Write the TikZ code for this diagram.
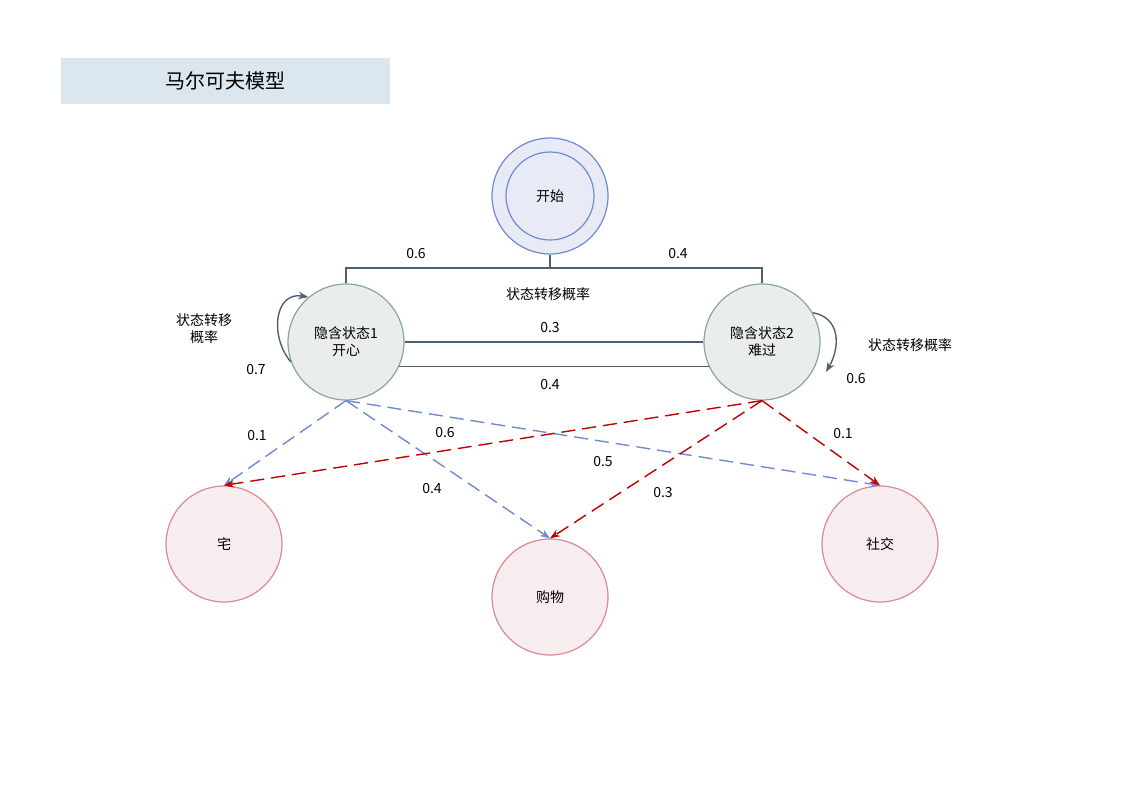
\documentclass[tikz,border=0pt]{standalone}
\usepackage{fontspec}
\setmainfont{Noto Sans CJK SC}
\usetikzlibrary{arrows.meta}
\definecolor{titlebg}{HTML}{DCE6EF}
\definecolor{startfill}{HTML}{E8EBF5}
\definecolor{startline}{HTML}{6F8BD0}
\definecolor{hidfill}{HTML}{EAEEEA}
\definecolor{hidline}{HTML}{86A898}
\definecolor{obsfill}{HTML}{F7ECEE}
\definecolor{obsline}{HTML}{D88A98}
\definecolor{barline}{HTML}{4F6170}
\definecolor{redarrow}{HTML}{C00000}
\begin{document}
\begin{tikzpicture}[x=0.5pt, y=-0.5pt,
    every node/.style={font=\fontsize{7}{8.5}\selectfont},
    hidden/.style={circle, draw=hidline, fill=hidfill, line width=0.6pt, minimum size=58pt, inner sep=0pt, align=center},
    observed/.style={circle, draw=obsline, fill=obsfill, line width=0.6pt, minimum size=58pt, inner sep=0pt},
    trans/.style={draw=barline, line width=0.7pt},
    bluelink/.style={draw=startline, line width=0.7pt, dash pattern=on 7pt off 3.5pt, -{Stealth[length=5pt]}},
    redlink/.style={draw=redarrow, line width=0.7pt, dash pattern=on 7pt off 3.5pt, -{Stealth[length=5pt]}}]
    \useasboundingbox (0,0) rectangle (1123,794);
    % title
    \node[fill=titlebg, minimum width=164.5pt, minimum height=23pt, font=\fontsize{10}{12}\selectfont] (title) at (225.5,81) {马尔可夫模型};

    % start state
    \node[circle, draw=startline, fill=startfill, line width=0.6pt, minimum size=58pt] (start) at (550,196) {};
    \node[circle, draw=startline, fill=startfill, line width=0.6pt, minimum size=44pt] (startin) at (550,196) {开始};

    % hidden states
    \node[hidden] (h1) at (346,342) {隐含状态1\\开心};
    \node[hidden] (h2) at (762,342) {隐含状态2\\难过};

    % observations
    \node[observed] (zhai) at (224,544) {宅};
    \node[observed] (gouwu) at (550,597) {购物};
    \node[observed] (shejiao) at (880,544) {社交};

    % start transitions
    \coordinate (bar) at (550,268);
    \draw[trans] (h1.north) |- (bar) -| (h2.north);
    \draw[trans] (start.south) -- (bar);
    \node (p1) at (416,253) {0.6};
    \node (p2) at (678,253) {0.4};
    \node (tlabel) at (548,294) {状态转移概率};

    % hidden transitions
    \draw[trans] (h1.east) -- (h2.west);
    \draw[trans] (h1.-25) -- (h2.205);
    \node (t12) at (550,327) {0.3};
    \node (t21) at (550,384) {0.4};

    % self loops
    \coordinate (h2end) at (826,372);
    \draw[trans, -{Stealth[length=5pt]}] (h1.200) to[out=130, in=170, looseness=1.3] (h1.130);
    \draw[trans, -{Stealth[length=5pt]}] (h2.30) to[out=-10, in=60, looseness=1.2] (h2end);
    \node[align=center] (l1) at (204,329) {状态转移\\概率};
    \node (l1p) at (256,369) {0.7};
    \node (l2) at (910,345) {状态转移概率};
    \node (l2p) at (856,378) {0.6};

    % emissions
    \draw[bluelink] (h1.south) -- (zhai.north);
    \draw[bluelink] (h1.south) -- (gouwu.north);
    \draw[bluelink] (h1.south) -- (shejiao.north);
    \draw[redlink] (h2.south) -- (zhai.north);
    \draw[redlink] (h2.south) -- (gouwu.north);
    \draw[redlink] (h2.south) -- (shejiao.north);
    \node (e1) at (257,435) {0.1};
    \node (e2) at (445,432) {0.6};
    \node (e3) at (603,461) {0.5};
    \node (e4) at (432,488) {0.4};
    \node (e5) at (663,492) {0.3};
    \node (e6) at (843,433) {0.1};
\end{tikzpicture}
\end{document}
